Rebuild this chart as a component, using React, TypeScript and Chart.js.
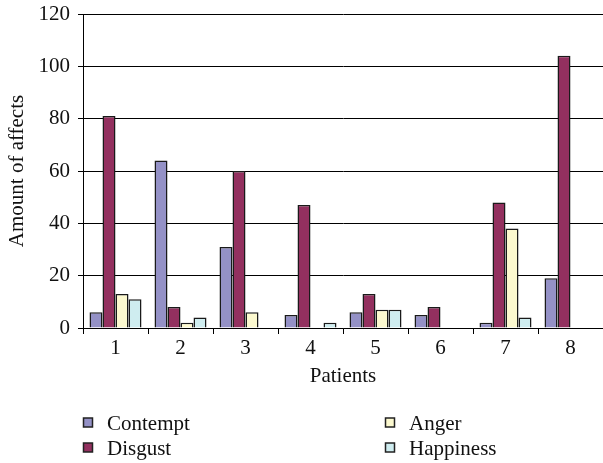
import React, { useEffect, useRef } from "react";
import { Chart, registerables } from "chart.js";

Chart.register(...registerables);

const categories = ["1", "2", "3", "4", "5", "6", "7", "8"];
const seriesNames = ["Contempt", "Disgust", "Anger", "Happiness"];
const contempt = [6, 64, 31, 5, 6, 5, 2, 19];
const disgust = [81, 8, 60, 47, 13, 8, 48, 104];
const anger = [13, 2, 6, 0, 7, 0, 38, 0];
const happiness = [11, 4, 0, 2, 7, 0, 4, 0];
const seriesColors = ["#9491C6", "#93305F", "#FCF9CF", "#CFEDF0"];
const yMin = 0;
const yMax = 120;
const yStep = 20;

const FONT = "'Liberation Serif', 'Times New Roman', serif";

const legendPlugin = {
  id: "customLegend",
  afterDraw(chart: any) {
    const ctx = chart.ctx;
    const order = [
      { i: 0, col: 0, row: 0 },
      { i: 2, col: 1, row: 0 },
      { i: 1, col: 0, row: 1 },
      { i: 3, col: 1, row: 1 },
    ];
    const colX = [83, 385];
    const rowBase = [430, 455];
    ctx.save();
    ctx.font = `21px ${FONT}`;
    ctx.textBaseline = "alphabetic";
    ctx.textAlign = "left";
    order.forEach(({ i, col, row }) => {
      const ds = chart.data.datasets[i];
      const x = colX[col];
      const yb = rowBase[row];
      ctx.fillStyle = ds.backgroundColor;
      ctx.fillRect(x + 0.5, yb - 12, 9, 9);
      ctx.lineWidth = 1.5;
      ctx.strokeStyle = "#222";
      ctx.strokeRect(x + 0.5, yb - 12, 9, 9);
      ctx.fillStyle = "#111";
      ctx.fillText(ds.label, x + 24, yb);
    });
    ctx.restore();
  },
};

export default function App() {
  const ref = useRef<HTMLCanvasElement | null>(null);

  useEffect(() => {
    if (!ref.current) return;
    const values = [contempt, disgust, anger, happiness];
    const chart = new Chart(ref.current, {
      type: "bar",
      data: {
        labels: categories,
        datasets: seriesNames.map((name, k) => ({
          label: name,
          data: values[k],
          backgroundColor: seriesColors[k],
          borderColor: "#1a1a1a",
          borderWidth: 1.5,
          categoryPercentage: 0.8,
          barPercentage: 1.0,
        })),
      },
      options: {
        responsive: false,
        devicePixelRatio: 1,
        animation: false,
        layout: { padding: { top: 14, right: 0, bottom: 63, left: 0 } },
        plugins: {
          legend: { display: false },
          tooltip: { enabled: false },
        },
        scales: {
          x: {
            grid: {
              drawOnChartArea: false,
              drawTicks: true,
              tickLength: 6,
              color: "#000",
              offset: true,
            },
            border: { color: "#000", width: 1 },
            ticks: { padding: 2, color: "#111", font: { family: FONT, size: 21 } },
            title: {
              display: true,
              text: "Patients",
              color: "#111",
              font: { family: FONT, size: 21 },
              padding: { top: 0, bottom: 11 },
            },
            afterFit: (s: any) => {
              s.height = 72;
              s.paddingLeft = 0;
              s.paddingRight = 0;
            },
          },
          y: {
            min: yMin,
            max: yMax,
            ticks: {
              stepSize: yStep,
              padding: 8,
              color: "#111",
              font: { family: FONT, size: 21 },
            },
            grid: { color: "#000", tickLength: 5, lineWidth: 1 },
            border: { color: "#000", width: 1 },
            title: {
              display: true,
              text: "Amount of affects",
              color: "#111",
              font: { family: FONT, size: 21 },
              padding: { top: 5, bottom: 4 },
            },
            afterFit: (s: any) => {
              s.width = 83;
              s.paddingTop = 0;
              s.paddingBottom = 0;
            },
          },
        },
      },
      plugins: [legendPlugin],
    });
    return () => chart.destroy();
  }, []);

  return (
    <div style={{ position: "fixed", left: 0, top: 0, width: 603, height: 463, background: "#fff" }}>
      <canvas ref={ref} width={603} height={463} style={{ width: 603, height: 463, display: "block" }} />
    </div>
  );
}
